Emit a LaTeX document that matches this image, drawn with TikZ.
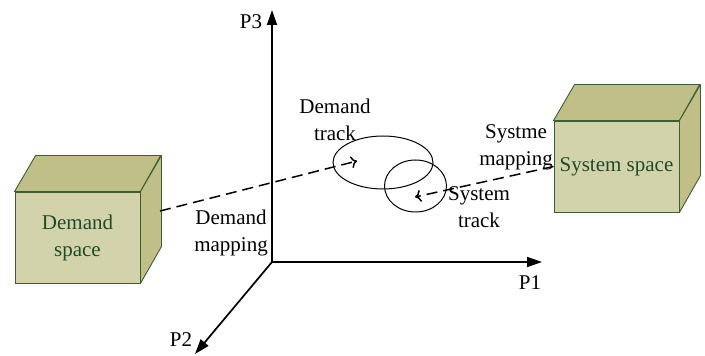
\documentclass[tikz,border=0pt]{standalone}
\usepackage{fontspec}
\setmainfont{Liberation Serif}
\usetikzlibrary{arrows.meta,shapes.geometric,positioning}
\definecolor{boxfront}{HTML}{D3D3AB}
\definecolor{boxside}{HTML}{BFBF87}
\definecolor{boxline}{HTML}{3A5F35}
\definecolor{boxtext}{HTML}{1F4A2A}
\tikzset{
  spacebox/.style={draw=boxline, fill=boxfront, minimum width=125pt, minimum height=91pt,
    inner sep=0pt, text=boxtext, align=center, line width=0.9pt},
  boxface/.style={draw=boxline, fill=boxside, line width=0.9pt, line join=round},
  trackloop/.style={draw, ellipse, inner sep=0pt, line width=1pt},
  lbl/.style={align=center, inner sep=0pt},
  axis/.style={line width=1.7pt, -{Triangle[length=15pt,width=10pt]}},
  mapline/.style={line width=1.5pt, dash pattern=on 11pt off 6pt, -{To[length=6pt,width=12pt]}}
}
\begin{document}
\begin{tikzpicture}[x=1pt, y=1pt, font=\fontsize{21}{27}\selectfont]
  \useasboundingbox (0,0) rectangle (705,356);

  % 1. axes
  \coordinate (O) at (272,94);
  \coordinate (p3end) at (272,346);
  \coordinate (p1end) at (542,94);
  \coordinate (p2end) at (195,2);
  \draw[axis] (O) -- (p3end);
  \draw[axis] (O) -- (p1end);
  \draw[axis] (O) -- (p2end);
  \node[lbl] (p3) at (251,334) {P3};
  \node[lbl] (p1) at (530,73) {P1};
  \node[lbl] (p2) at (181,16) {P2};

  % 2. the two spaces
  \node[spacebox] (dem) at (77.5,118.5) {Demand\\space};
  \filldraw[boxface] (dem.north west) -- ++(21,36) -- ++(125,0) -- (dem.north east) -- cycle;
  \filldraw[boxface] (dem.north east) -- ++(21,36) -- ++(0,-91) -- (dem.south east) -- cycle;

  \node[spacebox] (sys) at (616.5,189.5) {System space};
  \filldraw[boxface] (sys.north west) -- ++(21,36) -- ++(125,0) -- (sys.north east) -- cycle;
  \filldraw[boxface] (sys.north east) -- ++(21,36) -- ++(0,-91) -- (sys.south east) -- cycle;

  % 3. tracks
  \node[trackloop, minimum width=100pt, minimum height=53pt] (dtrack) at (383,193.5) {};
  \node[trackloop, minimum width=62pt, minimum height=52pt] (strack) at (415.5,170) {};

  % 4. mappings
  \coordinate (dmapS) at (160,145);
  \coordinate (dmapE) at (357,195);
  \coordinate (smapE) at (415,159);
  \draw[mapline] (dmapS) -- (dmapE);
  \draw[mapline] (sys.west) -- (smapE);

  % 5. labels
  \node[lbl] (dtracklbl) at (335,236) {Demand\\track};
  \node[lbl] (stracklbl) at (479,149) {System\\track};
  \node[lbl] (smaplbl) at (516,209) {Systme\\mapping};
  \node[lbl] (dmaplbl) at (231,123) {Demand\\mapping};
\end{tikzpicture}
\end{document}
